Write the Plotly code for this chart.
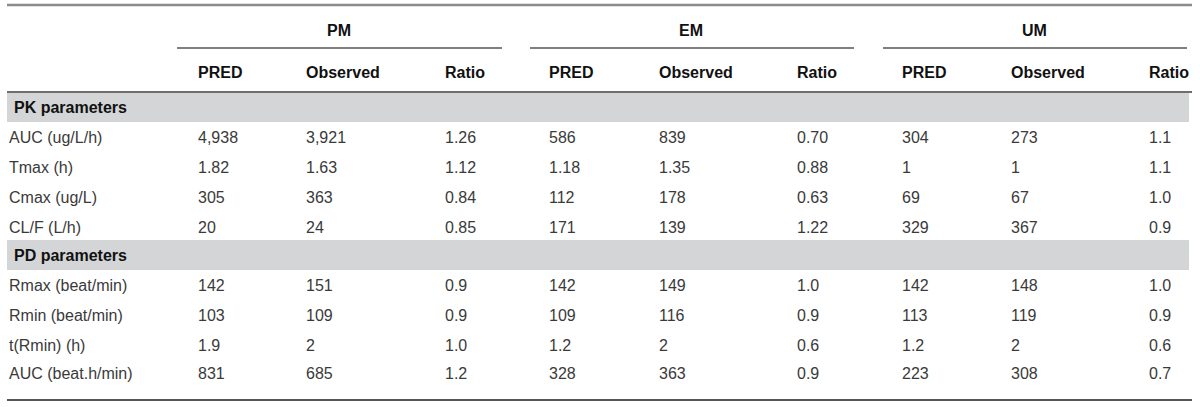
import plotly.graph_objects as go

# ----------------------------------------------------------------------
# Table data
# ----------------------------------------------------------------------
groups = ["PM", "EM", "UM"]
sub_headers = ["PRED", "Observed", "Ratio"]

pk_title = "PK parameters"
pk_labels = ["AUC (ug/L/h)", "Tmax (h)", "Cmax (ug/L)", "CL/F (L/h)"]
pd_title = "PD parameters"
pd_labels = ["Rmax (beat/min)", "Rmin (beat/min)", "t(Rmin) (h)", "AUC (beat.h/min)"]

# one list per column, PK rows first then PD rows
pm_pred = ["4,938", "1.82", "305", "20", "142", "103", "1.9", "831"]
pm_obs = ["3,921", "1.63", "363", "24", "151", "109", "2", "685"]
pm_ratio = ["1.26", "1.12", "0.84", "0.85", "0.9", "0.9", "1.0", "1.2"]
em_pred = ["586", "1.18", "112", "171", "142", "109", "1.2", "328"]
em_obs = ["839", "1.35", "178", "139", "149", "116", "2", "363"]
em_ratio = ["0.70", "0.88", "0.63", "1.22", "1.0", "0.9", "0.6", "0.9"]
um_pred = ["304", "1", "69", "329", "142", "113", "1.2", "223"]
um_obs = ["273", "1", "67", "367", "148", "119", "2", "308"]
um_ratio = ["1.1", "1.1", "1.0", "0.9", "1.0", "0.9", "0.6", "0.7"]

columns = [pm_pred, pm_obs, pm_ratio,
           em_pred, em_obs, em_ratio,
           um_pred, um_obs, um_ratio]

# ----------------------------------------------------------------------
# Layout geometry (pixel space of the page)
# ----------------------------------------------------------------------
W, H = 1200, 407
left, right = 7, 1192
col_x = [196, 304, 443, 547, 657, 795, 900, 1009, 1147]
group_spans = [(177, 502), (530, 854), (883, 1187)]
group_y = 30
rule_y = 48
sub_y = 72
band_pk = (93, 122)
pk_rows_y = [137, 167, 197, 227]
band_pd = (240, 270)
pd_rows_y = [285, 315, 345, 373]

FONT = "Liberation Sans, Arial, Helvetica, sans-serif"
BOLD = "#111111"
TEXT = "#3a3a3a"
BAND = "#d4d5d6"

fig = go.Figure()
shapes = []
annotations = []


def add_text(x, y, text, bold=False, anchor="left"):
    annotations.append(dict(
        x=x, y=y, xref="x", yref="y", text=f"<b>{text}</b>" if bold else text,
        showarrow=False, xanchor=anchor, yanchor="middle",
        font=dict(family=FONT, size=16, color=BOLD if bold else TEXT),
    ))


def hline(y, x0, x1, color, width):
    shapes.append(dict(type="line", xref="x", yref="y", x0=x0, x1=x1, y0=y, y1=y,
                       line=dict(color=color, width=width)))


# rules
hline(5, left, right, "#8c8c8c", 2.5)
for x0, x1 in group_spans:
    hline(rule_y, x0, x1, "#555555", 1.3)
hline(92, left, right, "#6e6e6e", 2)
hline(400, left, right, "#555555", 2)

# grey section bands
for y0, y1 in (band_pk, band_pd):
    shapes.append(dict(type="rect", xref="x", yref="y", x0=left, x1=right - 3,
                       y0=y0, y1=y1, fillcolor=BAND, line=dict(width=0), layer="below"))

# headers
for (x0, x1), g in zip(group_spans, groups):
    add_text((x0 + x1) / 2 - 1, group_y, g, bold=True, anchor="center")
for i, x in enumerate(col_x):
    add_text(x, sub_y, sub_headers[i % 3], bold=True)

# section titles
add_text(left + 5, sum(band_pk) / 2, pk_title, bold=True)
add_text(left + 5, sum(band_pd) / 2, pd_title, bold=True)

# body rows
row_labels = pk_labels + pd_labels
row_y = pk_rows_y + pd_rows_y
for r, (label, y) in enumerate(zip(row_labels, row_y)):
    add_text(left, y, label)
    for x, col in zip(col_x, columns):
        add_text(x, y, col[r])

fig.update_layout(
    width=W, height=H,
    margin=dict(l=0, r=0, t=0, b=0),
    paper_bgcolor="white", plot_bgcolor="white",
    xaxis=dict(range=[0, W], visible=False, fixedrange=True),
    yaxis=dict(range=[H, 0], visible=False, fixedrange=True),
    shapes=shapes,
    annotations=annotations,
    showlegend=False,
)

# drop the browser's default body margin so the table sits flush with the page
fig.write_html("out.html", config={"displayModeBar": False},
               post_script="document.body.style.margin='0';")
